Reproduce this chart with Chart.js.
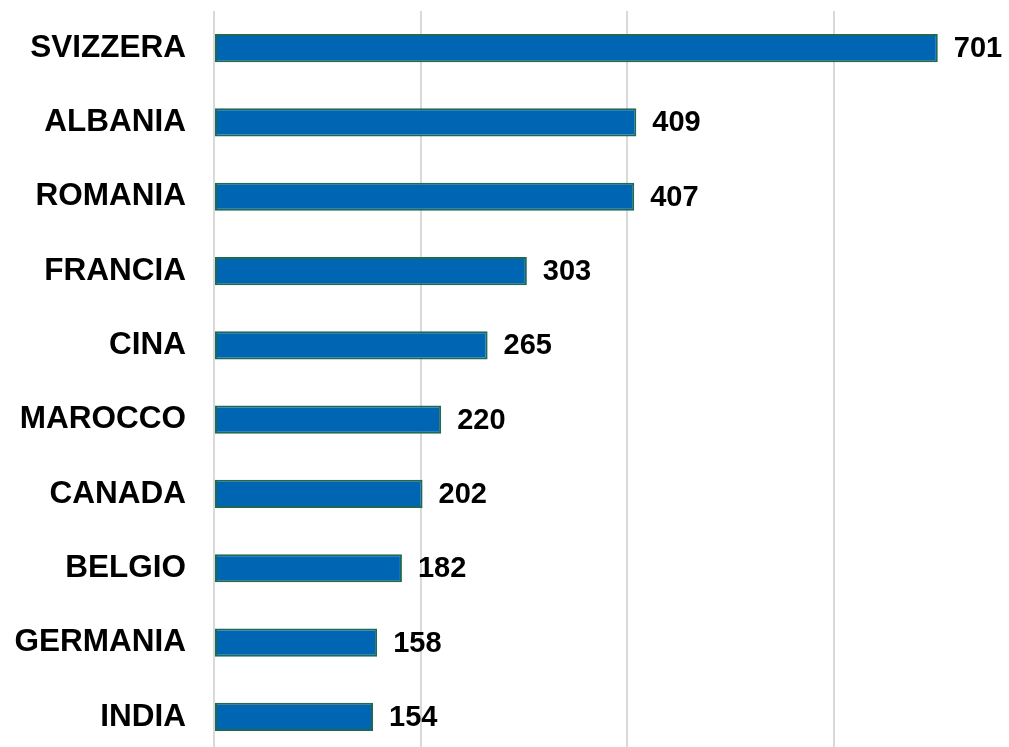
<!DOCTYPE html>
<html>
<head>
<meta charset="utf-8">
<script src="https://cdn.jsdelivr.net/npm/chart.js@4/dist/chart.umd.min.js"></script>
<style>
  html, body { margin: 0; padding: 0; background: #fff; overflow: hidden; width: 1009px; height: 747px; }
  #wrap { position: absolute; left: 0; top: 0; }
</style>
</head>
<body>
<div id="wrap"><canvas id="barChart" width="1045" height="756"></canvas></div>
<script>
// chart data
const countries = ["SVIZZERA", "ALBANIA", "ROMANIA", "FRANCIA", "CINA", "MAROCCO", "CANADA", "BELGIO", "GERMANIA", "INDIA"];
const values = [701, 409, 407, 303, 265, 220, 202, 182, 158, 154];
const gridTicks = [0, 200, 400, 600, 800];

const labelFont = { family: "'Liberation Sans', Arial, sans-serif", size: 31.5, weight: "bold" };

// draws the number to the right of each bar
const valueLabels = {
  id: "valueLabels",
  afterDatasetsDraw(chart) {
    const ctx = chart.ctx;
    const meta = chart.getDatasetMeta(0);
    ctx.save();
    ctx.font = "bold 29px 'Liberation Sans', Arial, sans-serif";
    ctx.fillStyle = "#000";
    ctx.textAlign = "left";
    ctx.textBaseline = "middle";
    meta.data.forEach((bar, i) => {
      ctx.fillText(values[i], bar.x + 16, bar.y + 1);
    });
    ctx.restore();
  }
};

const ctx = document.getElementById("barChart").getContext("2d");
const barChart = new Chart(ctx, {
  type: "bar",
  data: {
    labels: countries,
    datasets: [{
      data: values,
      backgroundColor: "#0066B3",
      borderColor: "#1F6A55",
      borderWidth: 2,
      borderSkipped: false,
      categoryPercentage: 1,
      barPercentage: 0.38
    }]
  },
  options: {
    indexAxis: "y",
    responsive: false,
    animation: false,
    devicePixelRatio: 1,
    layout: { padding: { top: 11, bottom: 2, left: 0, right: 5 } },
    plugins: {
      legend: { display: false },
      tooltip: { enabled: false }
    },
    scales: {
      x: {
        min: 0,
        max: 800,
        afterBuildTicks: (scale) => { scale.ticks = gridTicks.map(v => ({ value: v })); },
        afterFit: (scale) => {
          scale.height = 0;
          scale.paddingLeft = 0;
          scale.paddingRight = 0;
        },
        ticks: { display: false },
        grid: { color: "#D9D9D9", lineWidth: 2, drawTicks: false },
        border: { display: false }
      },
      y: {
        afterFit: (scale) => {
          scale.width = 214;
          scale.paddingTop = 0;
          scale.paddingBottom = 0;
        },
        ticks: { color: "#000", font: labelFont, padding: 28 },
        grid: { display: false, drawTicks: false },
        border: { display: false }
      }
    }
  },
  plugins: [valueLabels]
});
</script>
</body>
</html>
